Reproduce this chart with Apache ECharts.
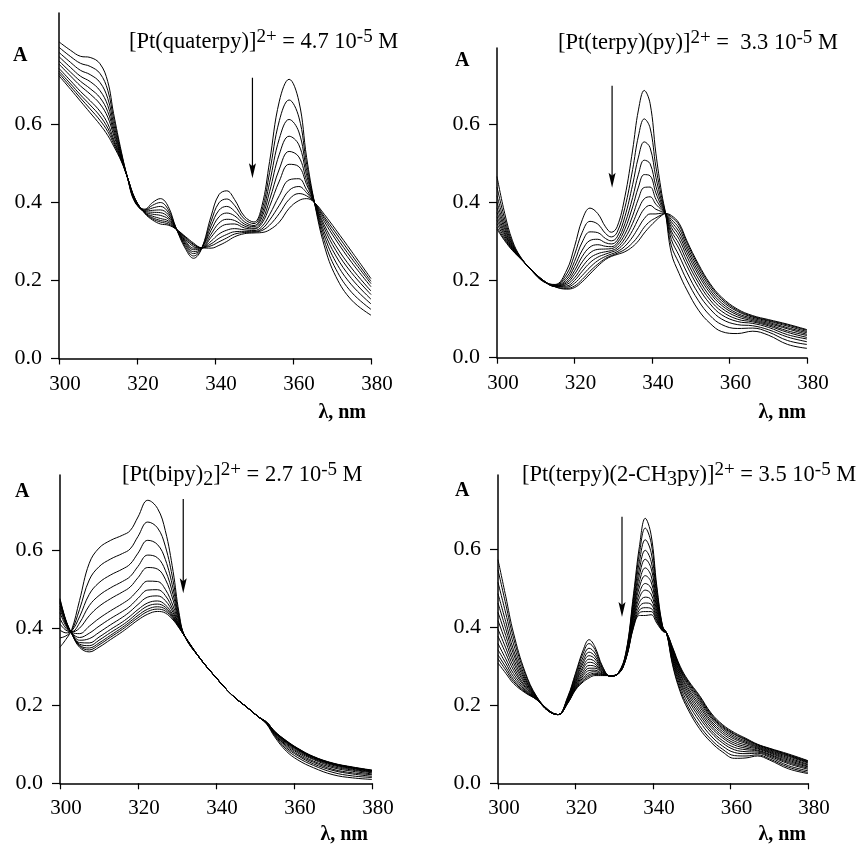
<!DOCTYPE html>
<html>
<head>
<meta charset="utf-8">
<script src="https://cdn.jsdelivr.net/npm/echarts@6/dist/echarts.min.js"></script>
<style>
  html, body { margin: 0; padding: 0; background: #fff; }
  #chart { width: 859px; height: 849px; }
</style>
</head>
<body>
<div id="chart"></div>
<script>
// wavelengths (nm) for each panel
const waveQuaterpy = [300,303,305.5,308,310.5,312.5,314,316,317.5,319.5,322,324,326,328,330,332.5,334.5,336.5,339,341,343,345,347.5,350,352,354,356.5,359,361.5,363.5,365.5,368,371,375,380]
const waveTerpyPy = [300,302,304,306,309,312,315,318,320,322,324,326,328,329.5,331,333,335,336.5,338,339.5,341,342.5,343.5,345,347,349,352,355,358,362,366,370,375,380]
const waveBipy = [300,301.5,303,305,307.5,310,313,316,318,320,322.5,325,327,329,330.5,332,336,340,344,348,351,353,355,358,361,365,370,375,380]
const waveTerpyMepy = [300,302,304,307,310,313,315.5,318,320,322,323.5,325,327,329,331,333,335,336.5,338,339.5,341,342.5,343.5,345,347,349,352,355,358,361,364,367,370,375,380]

// absorbance traces, first recorded first
const quaterpySpectra = [
  [.812,.79,.775,.772,.756,.71,.628,.53,.466,.40,.383,.40,.41,.39,.335,.28,.257,.28,.365,.42,.43,.408,.365,.35,.39,.505,.66,.716,.66,.515,.40,.29,.21,.15,.111],
  [.798,.774,.757,.749,.731,.688,.615,.526,.466,.402,.381,.393,.400,.382,.335,.285,.263,.281,.352,.399,.409,.393,.358,.346,.379,.477,.610,.663,.619,.498,.40,.303,.229,.170,.126],
  [.785,.759,.739,.728,.708,.667,.602,.522,.466,.403,.380,.386,.390,.375,.334,.290,.269,.281,.340,.380,.390,.378,.351,.341,.369,.451,.564,.613,.581,.482,.40,.315,.247,.189,.140],
  [.774,.746,.724,.710,.687,.649,.591,.519,.466,.404,.378,.380,.381,.369,.334,.294,.274,.282,.329,.363,.373,.366,.345,.338,.361,.428,.524,.570,.548,.469,.40,.325,.263,.205,.152],
  [.763,.734,.711,.692,.669,.633,.582,.516,.466,.406,.377,.375,.374,.363,.333,.298,.279,.282,.319,.347,.357,.354,.340,.334,.352,.407,.486,.531,.517,.456,.40,.335,.277,.220,.164],
  [.755,.724,.699,.678,.653,.619,.573,.514,.466,.407,.376,.370,.367,.358,.333,.301,.283,.283,.311,.334,.344,.345,.335,.332,.346,.390,.455,.498,.492,.446,.40,.343,.289,.232,.173],
  [.744,.712,.685,.661,.634,.602,.563,.511,.466,.408,.374,.365,.359,.353,.332,.305,.287,.283,.301,.319,.329,.333,.330,.328,.338,.369,.418,.458,.461,.433,.40,.352,.304,.247,.184],
  [.737,.704,.676,.650,.622,.591,.557,.509,.466,.409,.374,.361,.354,.349,.332,.308,.291,.284,.294,.308,.318,.325,.326,.326,.332,.355,.393,.431,.441,.425,.40,.359,.313,.257,.192],
  [.731,.697,.668,.640,.611,.582,.551,.507,.466,.409,.373,.358,.350,.345,.332,.310,.293,.284,.289,.299,.309,.319,.323,.324,.328,.342,.372,.408,.423,.417,.40,.364,.322,.266,.198],
  [.725,.69,.66,.63,.60,.572,.545,.505,.466,.41,.372,.355,.345,.342,.332,.312,.296,.284,.283,.29,.30,.312,.32,.322,.323,.33,.35,.385,.405,.41,.40,.37,.33,.275,.205]
]

const terpyPySpectra = [
  [.465,.37,.30,.26,.223,.195,.188,.225,.285,.354,.384,.37,.336,.322,.336,.413,.533,.636,.686,.653,.525,.422,.37,.268,.216,.174,.122,.088,.067,.062,.068,.058,.034,.024],
  [.438,.356,.295,.259,.223,.196,.187,.215,.264,.322,.350,.343,.319,.310,.322,.385,.483,.569,.613,.590,.490,.411,.37,.287,.242,.199,.146,.108,.085,.075,.076,.066,.044,.034],
  [.416,.345,.291,.258,.224,.196,.186,.207,.247,.297,.323,.321,.306,.300,.310,.362,.444,.515,.554,.539,.463,.401,.37,.303,.262,.219,.164,.125,.099,.085,.082,.072,.053,.041],
  [.399,.336,.288,.258,.224,.197,.185,.201,.234,.276,.301,.304,.295,.292,.301,.344,.411,.471,.507,.498,.440,.394,.37,.316,.279,.236,.180,.138,.110,.093,.088,.078,.059,.048],
  [.385,.329,.285,.257,.224,.197,.184,.196,.223,.260,.284,.290,.286,.285,.294,.330,.387,.438,.470,.467,.423,.388,.37,.325,.292,.248,.192,.148,.119,.099,.092,.082,.065,.052],
  [.373,.322,.283,.257,.224,.197,.184,.192,.214,.246,.269,.278,.279,.280,.288,.317,.364,.408,.437,.438,.407,.383,.37,.334,.304,.260,.202,.157,.127,.105,.095,.085,.069,.057],
  [.362,.317,.281,.256,.225,.197,.183,.188,.205,.233,.256,.267,.272,.275,.282,.306,.345,.381,.408,.413,.394,.379,.37,.342,.314,.270,.212,.166,.134,.110,.098,.088,.074,.060],
  [.353,.312,.279,.256,.225,.198,.183,.184,.198,.222,.244,.258,.266,.271,.277,.296,.327,.357,.382,.391,.381,.375,.37,.349,.323,.279,.220,.173,.140,.114,.101,.091,.077,.064],
  [.344,.307,.278,.256,.225,.198,.183,.181,.191,.211,.232,.249,.260,.266,.272,.286,.310,.334,.357,.369,.369,.371,.37,.355,.332,.287,.228,.180,.146,.119,.104,.094,.081,.067],
  [.335,.303,.276,.255,.225,.198,.182,.178,.184,.201,.222,.240,.255,.262,.268,.278,.295,.313,.335,.350,.359,.367,.37,.361,.340,.295,.235,.186,.151,.122,.106,.096,.084,.070],
  [.33,.30,.275,.255,.225,.198,.182,.176,.18,.195,.215,.235,.252,.26,.265,.272,.285,.30,.32,.337,.352,.365,.37,.365,.345,.30,.24,.19,.155,.125,.108,.098,.086,.072]
]

const bipySpectra = [
  [.35,.37,.395,.47,.566,.605,.625,.638,.65,.685,.728,.707,.65,.545,.44,.378,.32,.272,.228,.195,.17,.152,.12,.083,.06,.04,.022,.014,.01],
  [.374,.379,.393,.447,.523,.557,.577,.591,.603,.635,.672,.657,.610,.521,.432,.378,.32,.272,.228,.195,.17,.153,.123,.088,.066,.046,.028,.019,.015],
  [.394,.387,.392,.428,.486,.516,.536,.551,.564,.592,.625,.614,.576,.501,.426,.378,.32,.272,.228,.195,.17,.154,.125,.092,.071,.050,.033,.024,.018],
  [.410,.394,.390,.412,.457,.483,.503,.519,.532,.558,.587,.580,.548,.485,.421,.378,.32,.272,.228,.195,.17,.154,.127,.096,.074,.054,.036,.027,.022],
  [.424,.399,.389,.399,.431,.455,.475,.492,.505,.529,.555,.551,.525,.471,.416,.378,.32,.272,.228,.195,.17,.155,.128,.099,.078,.057,.040,.031,.024],
  [.439,.405,.388,.385,.404,.424,.444,.462,.476,.497,.520,.519,.499,.456,.412,.378,.32,.272,.228,.195,.17,.156,.130,.102,.081,.061,.043,.034,.027],
  [.449,.409,.387,.375,.386,.404,.424,.442,.456,.476,.497,.498,.483,.446,.408,.378,.32,.272,.228,.195,.17,.156,.131,.104,.084,.063,.046,.036,.029],
  [.456,.412,.387,.368,.372,.388,.408,.427,.442,.460,.479,.482,.470,.439,.406,.378,.32,.272,.228,.195,.17,.156,.132,.106,.086,.065,.048,.038,.030],
  [.463,.415,.386,.362,.361,.376,.396,.415,.430,.447,.464,.469,.459,.433,.404,.378,.32,.272,.228,.195,.17,.157,.133,.107,.087,.066,.049,.039,.032],
  [.466,.417,.386,.358,.354,.368,.388,.407,.422,.439,.456,.461,.453,.429,.403,.378,.32,.272,.228,.195,.17,.157,.133,.108,.088,.067,.050,.040,.032],
  [.469,.418,.385,.355,.348,.361,.381,.401,.416,.432,.448,.454,.448,.426,.402,.378,.32,.272,.228,.195,.17,.157,.133,.109,.089,.068,.051,.041,.033],
  [.472,.419,.385,.353,.343,.356,.376,.396,.411,.426,.442,.448,.443,.423,.401,.378,.32,.272,.228,.195,.17,.157,.134,.109,.089,.068,.051,.041,.033],
  [.475,.42,.385,.35,.338,.35,.37,.39,.405,.42,.435,.442,.438,.42,.40,.378,.32,.272,.228,.195,.17,.157,.134,.11,.09,.069,.052,.042,.034]
]

const terpyMepySpectra = [
  [.573,.479,.385,.285,.222,.188,.176,.222,.282,.342,.368,.35,.299,.274,.282,.335,.487,.607,.679,.637,.504,.402,.385,.305,.235,.19,.14,.105,.08,.064,.065,.07,.06,.037,.025],
  [.547,.459,.372,.280,.221,.188,.176,.220,.278,.334,.358,.343,.297,.274,.282,.333,.478,.589,.654,.617,.495,.401,.385,.309,.241,.197,.148,.112,.087,.071,.070,.073,.063,.041,.028],
  [.515,.436,.357,.273,.220,.187,.176,.218,.273,.324,.346,.334,.294,.274,.282,.331,.468,.568,.624,.592,.483,.399,.385,.315,.249,.206,.159,.121,.095,.079,.076,.077,.067,.045,.032],
  [.486,.414,.342,.268,.219,.187,.176,.216,.268,.315,.336,.326,.291,.275,.281,.329,.458,.549,.597,.569,.473,.398,.385,.320,.256,.215,.168,.130,.103,.086,.081,.080,.070,.050,.036],
  [.462,.396,.331,.263,.219,.187,.176,.215,.264,.308,.327,.319,.289,.275,.281,.328,.450,.533,.574,.551,.465,.397,.385,.324,.262,.221,.176,.136,.109,.092,.086,.083,.073,.053,.039],
  [.438,.379,.319,.258,.218,.186,.176,.213,.260,.300,.318,.312,.287,.275,.281,.326,.443,.517,.552,.532,.456,.396,.385,.328,.268,.228,.183,.143,.116,.098,.090,.085,.075,.056,.042],
  [.417,.363,.309,.254,.217,.186,.176,.212,.257,.294,.310,.306,.285,.275,.281,.325,.436,.503,.532,.516,.449,.395,.385,.332,.273,.234,.190,.149,.121,.103,.094,.088,.078,.059,.044],
  [.395,.347,.299,.249,.217,.186,.176,.211,.253,.287,.302,.300,.284,.275,.281,.324,.429,.488,.512,.500,.441,.394,.385,.335,.279,.240,.197,.155,.127,.108,.098,.090,.080,.062,.047],
  [.377,.333,.290,.246,.216,.186,.176,.209,.250,.281,.295,.295,.282,.275,.281,.322,.423,.476,.495,.485,.434,.393,.385,.338,.283,.245,.203,.160,.132,.113,.102,.092,.082,.065,.049],
  [.358,.319,.281,.242,.216,.186,.176,.208,.247,.276,.289,.290,.280,.276,.280,.321,.417,.464,.477,.471,.428,.392,.385,.341,.288,.251,.209,.166,.137,.117,.105,.094,.084,.068,.052],
  [.342,.308,.273,.239,.215,.185,.176,.207,.245,.271,.283,.286,.279,.276,.280,.320,.411,.453,.462,.459,.422,.392,.385,.344,.292,.255,.214,.170,.141,.121,.108,.096,.086,.070,.054],
  [.329,.298,.266,.236,.215,.185,.176,.206,.242,.267,.278,.282,.278,.276,.280,.319,.407,.444,.450,.448,.418,.391,.385,.346,.295,.259,.218,.174,.144,.125,.111,.098,.088,.072,.055],
  [.319,.290,.261,.234,.214,.185,.176,.206,.241,.263,.274,.279,.277,.276,.280,.319,.403,.437,.440,.440,.414,.390,.385,.348,.297,.262,.222,.177,.147,.127,.113,.099,.089,.073,.057],
  [.308,.282,.256,.232,.214,.185,.176,.205,.239,.26,.27,.276,.276,.276,.28,.318,.40,.43,.43,.432,.41,.39,.385,.35,.30,.265,.225,.18,.15,.13,.115,.10,.09,.075,.058]
]

const xTicks = [300, 320, 340, 360, 380]
const yTicks = [0, 0.2, 0.4, 0.6]
// arrow per panel in data units: [nm, from A, to A]
const arrows = [[349.6, .72, .462], [329.7, .698, .436], [331.6, .731, .489], [332, .683, .426]]

const FONT = 'Liberation Serif'
const panels = [
  { wave: waveQuaterpy, spectra: quaterpySpectra, yMax: 0.886, grid: { left: 59, top: 13, width: 312, height: 345.5 } },
  { wave: waveTerpyPy, spectra: terpyPySpectra, yMax: 0.795, grid: { left: 497, top: 48, width: 310, height: 309.7 } },
  { wave: waveBipy, spectra: bipySpectra, yMax: 0.793, grid: { left: 60, top: 475, width: 312, height: 308.3 } },
  { wave: waveTerpyMepy, spectra: terpyMepySpectra, yMax: 0.79, grid: { left: 498, top: 475, width: 310, height: 308.3 } }
]

let grid = [], xAxis = [], yAxis = [], series = []
panels.forEach(function (p, k) {
  grid.push(p.grid)
  xAxis.push({
    type: 'value', gridIndex: k, min: 300, max: 380, interval: 20,
    axisLine: { lineStyle: { color: '#000', width: 1.5 } },
    axisTick: { length: 6, lineStyle: { color: '#000', width: 1.2 }, customValues: xTicks },
    axisLabel: { color: '#000', fontFamily: FONT, fontSize: 21, margin: 15, padding: [0, 0, 0, 12], customValues: xTicks },
    splitLine: { show: false }
  })
  yAxis.push({
    type: 'value', gridIndex: k, min: 0, max: p.yMax, interval: 0.2,
    axisLine: { show: true, lineStyle: { color: '#000', width: 1.5 } },
    axisTick: { show: true, length: 8, lineStyle: { color: '#000', width: 1.2 }, customValues: yTicks },
    axisLabel: { color: '#000', fontFamily: FONT, fontSize: 22, margin: 17, customValues: yTicks,
      formatter: function (v) { return v.toFixed(1) } },
    splitLine: { show: false }
  })
  p.spectra.forEach(function (s) {
    series.push({
      type: 'line', xAxisIndex: k, yAxisIndex: k, showSymbol: false, smooth: 0.4,
      silent: true, animation: false,
      lineStyle: { color: '#000', width: 1 },
      data: p.wave.map(function (w, i) { return [w, s[i]] })
    })
  })
})

const rich = {
  t: { fontFamily: FONT, fontSize: 22.5, lineHeight: 22.5, verticalAlign: 'middle', color: '#000' },
  sup: { fontFamily: FONT, fontSize: 19, lineHeight: 19, verticalAlign: 'top', color: '#000' },
  sub: { fontFamily: FONT, fontSize: 20, lineHeight: 20, verticalAlign: 'bottom', color: '#000' },
  gap: { fontFamily: FONT, fontSize: 22.5, lineHeight: 29, verticalAlign: 'middle', color: '#000' }
}
function label(x, y, text) {
  return { type: 'text', x: x, y: y, silent: true, style: { text: '{gap|}' + text, rich: rich, verticalAlign: 'top' } }
}
function bold(x, y, text, align) {
  return { type: 'text', x: x, y: y, silent: true,
    style: { text: text, fontFamily: FONT, fontWeight: 'bold', fontSize: 20, fill: '#000', align: align || 'left', verticalAlign: 'middle' } }
}

let graphic = [
  label(129, 28, '{t|[Pt(quaterpy)]}{sup|2+}{t| = 4.7 10}{sup|-5}{t| M}'),
  label(558, 29, '{t|[Pt(terpy)(py)]}{sup|2+}{t| =  3.3 10}{sup|-5}{t| M}'),
  label(122, 461, '{t|[Pt(bipy)}{sub|2}{t|]}{sup|2+}{t| = 2.7 10}{sup|-5}{t| M}'),
  label(522, 461, '{t|[Pt(terpy)(2-CH}{sub|3}{t|py)]}{sup|2+}{t| = 3.5 10}{sup|-5}{t| M}'),
  bold(13, 56, 'A'), bold(455, 61, 'A'), bold(15, 492, 'A'), bold(455, 491, 'A'),
  bold(366, 413, 'λ, nm', 'right'), bold(806, 413, 'λ, nm', 'right'),
  bold(368, 835, 'λ, nm', 'right'), bold(806, 835, 'λ, nm', 'right')
]

let chart = echarts.init(document.getElementById('chart'))
chart.setOption({
  backgroundColor: '#fff',
  animation: false,
  grid: grid,
  xAxis: xAxis,
  yAxis: yAxis,
  series: series
})

// arrows placed through the axes of each panel
arrows.forEach(function (a, k) {
  let p0 = chart.convertToPixel({ gridIndex: k }, [a[0], a[1]])
  let p1 = chart.convertToPixel({ gridIndex: k }, [a[0], a[2]])
  graphic.push({ type: 'line', silent: true, shape: { x1: p0[0], y1: p0[1], x2: p1[0], y2: p1[1] - 8 },
    style: { stroke: '#000', lineWidth: 1.2 } })
  graphic.push({ type: 'polygon', silent: true,
    shape: { points: [[p1[0] - 3.5, p1[1] - 15], [p1[0], p1[1]], [p1[0] + 3.5, p1[1] - 15], [p1[0], p1[1] - 12]] },
    style: { fill: '#000' } })
})
chart.setOption({ graphic: graphic })
</script>
</body>
</html>
